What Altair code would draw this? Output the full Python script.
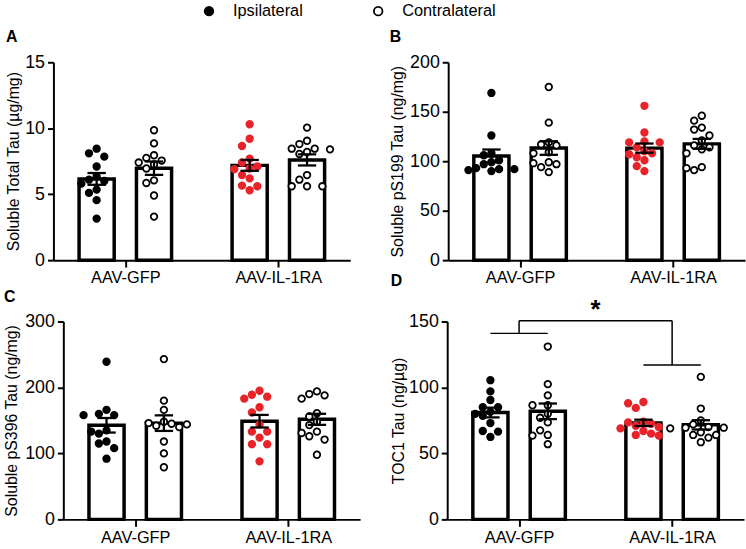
import altair as alt
import pandas as pd

GROUPS = ["AAV-GFP", "AAV-IL-1RA"]
SIDES = ["Ipsilateral", "Contralateral"]

# A: soluble total tau (µg/mg)
tt_gfp_ipsi = [8.45, 8.1, 7.85, 7.1, 6.35, 6.1, 6.0, 5.8, 5.35, 5.1, 4.55, 3.15]
tt_gfp_contra = [9.85, 8.85, 7.95, 7.75, 7.55, 7.4, 7.25, 6.95, 6.05, 5.85, 4.9, 3.3]
tt_il_ipsi = [10.3, 9.2, 8.65, 7.7, 7.4, 7.1, 6.95, 6.9, 6.45, 6.2, 5.65, 5.6, 5.3]
tt_il_contra = [10.05, 9.05, 8.8, 8.45, 8.45, 8.4, 8.2, 8.05, 6.45, 6.1, 5.6, 5.6, 5.6]

# B: soluble pS199 tau (ng/mg)
ps199_gfp_ipsi = [169, 126, 108, 106, 101, 99, 97, 93, 92, 92, 91, 90]
ps199_gfp_contra = [175, 139, 119, 117, 116, 109, 108, 99, 98, 97, 94, 89]
ps199_il_ipsi = [156, 129, 120, 119, 119, 114, 110, 108, 107, 104, 101, 95, 90]
ps199_il_contra = [146, 141, 134, 132, 126, 121, 116, 114, 112, 108, 94, 93, 91]

# C: soluble pS396 tau (ng/mg)
ps396_gfp_ipsi = [239, 166, 160, 158, 158, 135, 133, 130, 118, 115, 108, 92]
ps396_gfp_contra = [243, 180, 166, 148, 146, 145, 144, 142, 140, 118, 100, 79]
ps396_il_ipsi = [195, 189, 186, 183, 170, 162, 144, 133, 133, 124, 114, 114, 88]
ps396_il_contra = [194, 190, 188, 183, 161, 156, 148, 143, 133, 131, 126, 121, 98]

# D: TOC1 tau (ng/µg)
toc1_gfp_ipsi = [105.5, 97, 90.5, 85, 85, 81.5, 80, 78.5, 73, 67, 66.5, 62.5]
toc1_gfp_contra = [131, 102.5, 94, 86.5, 86.5, 80, 77, 73.5, 67.5, 64, 63.5, 57]
toc1_il_ipsi = [89, 88, 84.5, 74, 73.5, 72.5, 71, 70, 69, 67, 65, 64, 63.5]
toc1_il_contra = [108, 84, 75, 72, 70, 69.5, 69.5, 69, 66, 64, 64, 62, 58.5]

# significance bracket heights for D (group-level comparison)
toc1_bracket_low = [141, 117]
toc1_bracket_top = 150.5

PLOT_W, PLOT_H = 300, 200
X_MAX = 7.5
RED = "#e8232a"
FONT = "Liberation Sans"


def bar_pos(g, s):
    return 1.0 + 4.0 * g + 1.5 * s


def group_center(g):
    return 0.5 * (bar_pos(g, 0) + bar_pos(g, 1))


def swarm_offsets(values, ymax, step=8.0, min_dist=8.2):
    """Greedy beeswarm: horizontal offsets (x units) so dots do not overlap."""
    ppu = PLOT_H / ymax
    order = sorted(range(len(values)), key=lambda i: -values[i])
    cands = [0]
    for n in range(1, 12):
        cands += [-n, n]
    placed, out = [], [0.0] * len(values)
    for i in order:
        yy = values[i] * ppu
        dx = 0.0
        for c in cands:
            dx = c * step
            if all((dx - px) ** 2 + (yy - py) ** 2 >= min_dist ** 2 for px, py in placed):
                break
        placed.append((dx, yy))
        out[i] = dx * X_MAX / PLOT_W
    return out


def long_table(series, ymax):
    rows = []
    for g, gname in enumerate(GROUPS):
        for s, sname in enumerate(SIDES):
            vals = series[g][s]
            for v, o in zip(vals, swarm_offsets(vals, ymax)):
                rows.append(dict(group=gname, side=sname, value=v,
                                 pos=bar_pos(g, s), xj=bar_pos(g, s) + o))
    return pd.DataFrame(rows)


legend = alt.Legend(title=None, orient="none", direction="horizontal",
                    legendX=139, legendY=-60, labelFontSize=16.5, labelFont=FONT,
                    symbolSize=75, symbolStrokeColor="black", symbolStrokeWidth=1.8,
                    labelOffset=16, columnPadding=67)


def panel(series, letter, ytitle, ymax, ystep, title_x, shift=0, extra=()):
    """One bar + scatter panel; `shift` moves the plot frame left inside its cell."""
    df = long_table(series, ymax)
    base = alt.Chart(df)
    xs = alt.Scale(domain=[0, X_MAX], nice=False, zero=False,
                   range=[-shift, PLOT_W - shift])
    ys = alt.Scale(domain=[0, ymax], nice=False)
    split = 0.5 * (group_center(0) + group_center(1))
    xaxis = alt.Axis(values=[group_center(0), group_center(1)],
                     labelExpr=f"datum.value < {split} ? '{GROUPS[0]}' : '{GROUPS[1]}'",
                     title=None, grid=False, tickSize=7, labelPadding=3,
                     labelFontSize=16.5)
    yaxis = alt.Axis(values=list(range(0, ymax + 1, ystep)), title=ytitle, grid=False,
                     offset=shift, tickSize=6, labelPadding=3, titleX=title_x,
                     titleY=PLOT_H / 2, titleBaseline="middle", titleAlign="center",
                     labelFontSize=18, titleFontSize=16, titleFontWeight="normal")
    X = lambda f: alt.X(f, scale=xs, axis=xaxis)
    Y = lambda f: alt.Y(f, scale=ys, axis=yaxis)

    bars = base.mark_bar(size=35.5, fill="white", stroke="black", strokeWidth=3.5).encode(
        x=X("pos:Q"), y=Y("mean(value):Q"))

    red_test = f"datum.group == '{GROUPS[1]}' && datum.side == '{SIDES[0]}'"
    pts = base.mark_circle(size=44, opacity=1, strokeWidth=1.8).encode(
        x=X("xj:Q"), y=Y("value:Q"),
        fill=alt.condition(red_test, alt.value(RED),
                           alt.Fill("side:N", scale=alt.Scale(domain=SIDES, range=["black", "white"]),
                                    legend=legend)),
        stroke=alt.condition(red_test, alt.value(RED), alt.value("black")))

    stats = base.transform_aggregate(
        m="mean(value)", se="stderr(value)", groupby=["pos"]
    ).transform_calculate(
        lo="datum.m - datum.se", hi="datum.m + datum.se",
        xl="datum.pos - 0.24", xr="datum.pos + 0.24")
    stem = stats.mark_rule(strokeWidth=2.3, color="black").encode(
        x=X("pos:Q"), y=Y("lo:Q"), y2="hi:Q")
    cap_hi = stats.mark_rule(strokeWidth=2.3, color="black").encode(
        x=X("xl:Q"), x2="xr:Q", y=Y("hi:Q"))
    cap_lo = stats.mark_rule(strokeWidth=2.3, color="black").encode(
        x=X("xl:Q"), x2="xr:Q", y=Y("lo:Q"))

    layers = [bars, pts, stem, cap_hi, cap_lo] + [e(X, Y) for e in extra]
    return alt.layer(*layers).properties(
        width=PLOT_W, height=PLOT_H,
        title=alt.TitleParams(letter, anchor="start", frame="bounds", fontSize=16,
                              fontWeight="bold", font=FONT, offset=8))


def toc1_bracket(X, Y):
    c0, c1 = group_center(0), group_center(1)
    lo0, lo1 = toc1_bracket_low
    top = toc1_bracket_top
    seg = pd.DataFrame([
        dict(x=bar_pos(0, 0), x2=bar_pos(0, 1), y=lo0, y2=lo0),
        dict(x=c0, x2=c0, y=lo0, y2=top),
        dict(x=c0, x2=c1, y=top, y2=top),
        dict(x=c1, x2=c1, y=lo1, y2=top),
        dict(x=bar_pos(1, 0), x2=bar_pos(1, 1), y=lo1, y2=lo1),
    ])
    lines = alt.Chart(seg).mark_rule(strokeWidth=1.5, color="black").encode(
        x=X("x:Q"), x2="x2:Q", y=Y("y:Q"), y2="y2:Q")
    star = alt.Chart(pd.DataFrame([dict(x=0.5 * (c0 + c1), y=top, t="*")])).mark_text(
        fontSize=26, fontWeight="bold", font=FONT, baseline="bottom", dy=2
    ).encode(x=X("x:Q"), y=Y("y:Q"), text="t:N")
    return alt.layer(lines, star)


pA = panel([[tt_gfp_ipsi, tt_gfp_contra], [tt_il_ipsi, tt_il_contra]],
           "A", "Soluble Total Tau (µg/mg)", 15, 5, -40, shift=10)
pB = panel([[ps199_gfp_ipsi, ps199_gfp_contra], [ps199_il_ipsi, ps199_il_contra]],
           "B", "Soluble pS199 Tau (ng/mg)", 200, 50, -51)
pC = panel([[ps396_gfp_ipsi, ps396_gfp_contra], [ps396_il_ipsi, ps396_il_contra]],
           "C", "Soluble pS396 Tau (ng/mg)", 300, 100, -52)
pD = panel([[toc1_gfp_ipsi, toc1_gfp_contra], [toc1_il_ipsi, toc1_il_contra]],
           "D", "TOC1 Tau (ng/µg)", 150, 50, -49, extra=(toc1_bracket,))

chart = alt.vconcat(
    alt.hconcat(pA, pB, spacing=28),
    alt.hconcat(pC, pD, spacing=29),
    spacing=-15,
).properties(
    padding={"left": 3, "top": 0, "right": 0, "bottom": 0}, background="white"
).configure_axis(
    domainColor="black", domainWidth=2, tickColor="black", tickWidth=2,
    labelColor="black", titleColor="black", labelFont=FONT, titleFont=FONT,
).configure_view(stroke="transparent")

chart.save("out.html", embed_options={"renderer": "svg", "actions": False})
